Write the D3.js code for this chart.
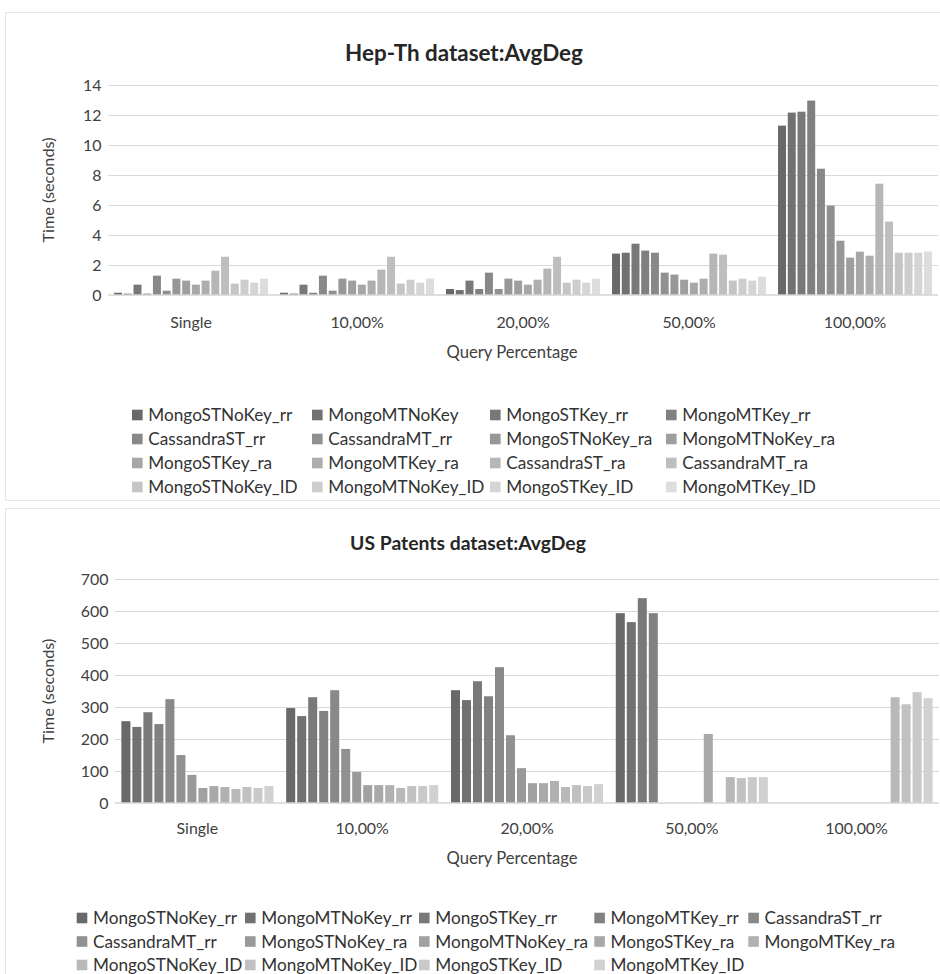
<!DOCTYPE html>
<html><head><meta charset="utf-8">
<script src="https://cdn.jsdelivr.net/npm/d3@7"></script>
<style>body{margin:0;background:#fff}svg{display:block}</style>
</head><body>
<svg id="c" width="940" height="974"></svg>
<script>
// ---------- data ----------
const categories = ["Single", "10,00%", "20,00%", "50,00%", "100,00%"];

const hepThSeries = ["MongoSTNoKey_rr","MongoMTNoKey","MongoSTKey_rr","MongoMTKey_rr",
  "CassandraST_rr","CassandraMT_rr","MongoSTNoKey_ra","MongoMTNoKey_ra",
  "MongoSTKey_ra","MongoMTKey_ra","CassandraST_ra","CassandraMT_ra",
  "MongoSTNoKey_ID","MongoMTNoKey_ID","MongoSTKey_ID","MongoMTKey_ID"];
const hepThSingle = [0.15,0.09,0.69,0.09,1.29,0.29,1.09,0.96,0.69,0.96,1.62,2.55,0.76,1.02,0.82,1.09];
const hepTh10     = [0.15,0.09,0.69,0.15,1.29,0.29,1.09,0.96,0.69,0.96,1.69,2.55,0.76,1.02,0.82,1.09];
const hepTh20     = [0.40,0.33,0.96,0.40,1.49,0.40,1.09,0.96,0.69,1.02,1.76,2.55,0.82,1.02,0.82,1.09];
const hepTh50     = [2.76,2.82,3.42,2.96,2.82,1.49,1.36,1.02,0.82,1.09,2.76,2.69,0.96,1.09,0.96,1.22];
const hepTh100    = [11.29,12.16,12.22,12.96,8.42,5.96,3.62,2.49,2.89,2.62,7.42,4.89,2.82,2.82,2.82,2.89];
const hepThTicks  = [0,2,4,6,8,10,12,14];

const patentsSeries = ["MongoSTNoKey_rr","MongoMTNoKey_rr","MongoSTKey_rr","MongoMTKey_rr","CassandraST_rr",
  "CassandraMT_rr","MongoSTNoKey_ra","MongoMTNoKey_ra","MongoSTKey_ra","MongoMTKey_ra",
  "MongoSTNoKey_ID","MongoMTNoKey_ID","MongoSTKey_ID","MongoMTKey_ID"];
const patentsSingle = [256,238,284,247,325,150,88,47,53,50,44,50,47,53];
const patents10     = [297,272,331,288,353,169,97,56,56,56,47,53,53,56];
const patents20     = [353,322,381,334,425,212,109,62,62,69,50,56,53,59];
const patents50     = [594,566,641,594,0,0,0,0,216,0,81,78,81,81];
const patents100    = [0,0,0,0,0,0,0,0,0,0,331,309,347,328];
const patentsTicks  = [0,100,200,300,400,500,600,700];

// ---------- styles ----------
const FONT = "Lato, 'Open Sans', sans-serif";
const hepThColors = hepThSeries.map((d,i)=> d3.rgb(105+i*7.7,105+i*7.7,105+i*7.7).formatHex());
const patentsColors = patentsSeries.map((d,i)=> d3.rgb(105+i*8,105+i*8,105+i*8).formatHex());

const svg = d3.select("#c");

function fitSize(text, target, weight){
  const t = svg.append("text").attr("font-family",FONT).attr("font-size",100)
    .attr("font-weight",weight||400).text(text);
  const w = t.node().getComputedTextLength(); t.remove();
  return 100*target/w;
}
const fsLegend = fitSize("MongoSTNoKey_rr", 144);
const fsTitleTop = fitSize("Hep-Th dataset:AvgDeg", 238, 700);
const fsTitleBot = fitSize("US Patents dataset:AvgDeg", 236, 700);
const fsTick   = fitSize("700", 27.7);
const fsAxisT  = fitSize("Time (seconds)", 105);
const fsCat    = fitSize("Query Percentage", 131);

function chart(o){
  const g = svg.append("g");
  g.append("rect").attr("x",o.frame[0]+0.5).attr("y",o.frame[1]+0.5)
    .attr("width",o.frame[2]).attr("height",o.frame[3])
    .attr("fill","#fff").attr("stroke","#e2e7ee");
  g.append("text").attr("x",o.titleX).attr("y",o.titleY).attr("dy","0.35em")
    .attr("text-anchor","middle").attr("font-family",FONT).attr("font-weight",700)
    .attr("font-size",o.titleSize).attr("fill","#262626").text(o.title);

  const y = d3.scaleLinear().domain([0, d3.max(o.ticks)]).range([o.y0, o.y1]);
  const x0 = d3.scaleBand().domain(categories).range([o.x0, o.x1]);
  const x1 = d3.scaleBand().domain(o.series).range([0, x0.bandwidth()])
    .paddingInner(0.18).paddingOuter(o.outer);

  // gridlines
  g.append("g").selectAll("line").data(o.ticks.filter(t=>t>0)).join("line")
    .attr("x1",o.x0).attr("x2",o.x1)
    .attr("y1",d=>Math.round(y(d))+0.5).attr("y2",d=>Math.round(y(d))+0.5)
    .attr("stroke","#d9d9d9").attr("stroke-width",1);

  // bars
  const rows = categories.map((c,ci)=>({c, vals:o.values[ci]}));
  g.append("g").selectAll("g").data(rows).join("g")
    .attr("transform",d=>`translate(${x0(d.c)},0)`)
    .selectAll("rect").data(d=>d.vals.map((v,i)=>({s:o.series[i], v, i})))
    .join("rect")
    .attr("x",d=>x1(d.s)).attr("width",x1.bandwidth())
    .attr("y",d=>y(d.v)).attr("height",d=>y(0)-y(d.v))
    .attr("fill",d=>o.colors[d.i]);

  // baseline
  g.append("line").attr("x1",o.x0).attr("x2",o.x1)
    .attr("y1",y(0)).attr("y2",y(0)).attr("stroke","#d4d4d4").attr("stroke-width",1.6);

  // y axis labels
  const ya = d3.axisLeft(y).tickValues(o.ticks).tickSize(0).tickPadding(6.5);
  const yg = g.append("g").attr("transform",`translate(${o.x0},0)`).call(ya);
  yg.select(".domain").remove();
  yg.selectAll("text").attr("font-family",FONT).attr("font-size",fsTick).attr("fill","#404040");

  // x axis labels
  const xa = d3.axisBottom(x0).tickSize(0).tickPadding(0);
  const xg = g.append("g").attr("transform",`translate(0,${y(0)})`).call(xa);
  xg.select(".domain").remove();
  xg.selectAll("text").attr("y",o.catDy).attr("dy","0.35em")
    .attr("font-family",FONT).attr("font-size",fsTick).attr("fill","#404040");

  g.append("text").attr("x",o.xTitleX).attr("y",y(0)+o.xTitleDy).attr("dy","0.35em")
    .attr("text-anchor","middle").attr("font-family",FONT).attr("font-size",fsCat)
    .attr("fill","#404040").text("Query Percentage");
  g.append("text").attr("transform",`translate(48,${(o.y0+o.y1)/2}) rotate(-90)`)
    .attr("dy","0.35em").attr("text-anchor","middle").attr("font-family",FONT)
    .attr("font-size",fsAxisT).attr("fill","#404040").text("Time (seconds)");

  // legend
  const items = o.series.map((s,i)=>({s,i,col:i%o.legCols.length,row:Math.floor(i/o.legCols.length)}));
  const lg = g.append("g").selectAll("g").data(items).join("g")
    .attr("transform",d=>`translate(${o.legCols[d.col]},${o.legRows[d.row]})`);
  lg.append("rect").attr("x",0).attr("y",-5.3).attr("width",10.6).attr("height",10.6)
    .attr("fill",d=>o.colors[d.i]);
  lg.append("text").attr("x",16.3).attr("dy","0.35em").attr("font-family",FONT)
    .attr("font-size",fsLegend).attr("fill","#333").text(d=>d.s);
}

chart({
  frame:[5,12,940,488], title:"Hep-Th dataset:AvgDeg", titleX:464, titleY:53, titleSize:fsTitleTop,
  series:hepThSeries, colors:hepThColors, ticks:hepThTicks,
  values:[hepThSingle,hepTh10,hepTh20,hepTh50,hepTh100],
  x0:108, x1:938, y0:295, y1:85, outer:0.62, catDy:27, xTitleDy:57, xTitleX:512,
  legCols:[132,312,490,666], legRows:[415,439,463,487]
});
chart({
  frame:[5,508,940,470], title:"US Patents dataset:AvgDeg", titleX:468, titleY:543, titleSize:fsTitleBot,
  series:patentsSeries, colors:patentsColors, ticks:patentsTicks,
  values:[patentsSingle,patents10,patents20,patents50,patents100],
  x0:115, x1:939, y0:803, y1:579.3, outer:0.58, catDy:25, xTitleDy:55, xTitleX:512,
  legCols:[76.7,245,419,594.3,748.3], legRows:[918,941.5,965]
});
</script>
</body></html>
